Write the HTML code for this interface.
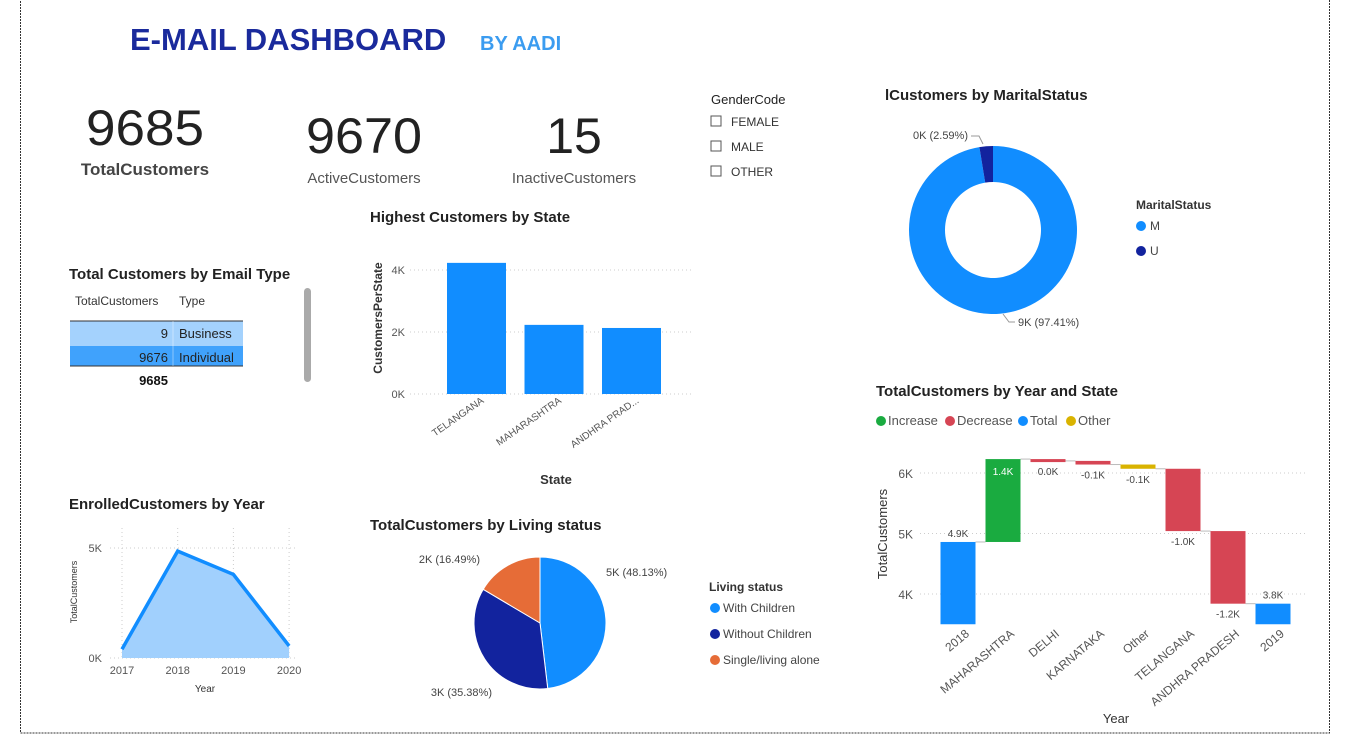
<!DOCTYPE html>
<html><head><meta charset="utf-8"><style>
body{margin:0;width:1348px;height:737px;background:#fff;overflow:hidden;font-family:"Liberation Sans",sans-serif}
svg{position:absolute;left:0;top:0}
</style></head><body>
<svg id="s" width="1348" height="737" xmlns="http://www.w3.org/2000/svg" font-family="Liberation Sans, sans-serif">
<rect x="20.5" y="-2" width="1309" height="735" fill="none" stroke="#333" stroke-dasharray="2,1"/>
<text x="130" y="50" font-size="31" font-weight="bold" fill="#1a2a9c">E-MAIL DASHBOARD</text>
<text x="480" y="50" font-size="20" font-weight="bold" fill="#3b9cf0">BY AADI</text>
<g><text x="145" y="145" font-size="50" text-anchor="middle" fill="#222" textLength="118" lengthAdjust="spacingAndGlyphs">9685</text><text x="145" y="175" font-size="17" font-weight="bold" text-anchor="middle" fill="#444">TotalCustomers</text></g>
<g><text x="364" y="153" font-size="50" text-anchor="middle" fill="#222" textLength="116" lengthAdjust="spacingAndGlyphs">9670</text><text x="364" y="183" font-size="15" text-anchor="middle" fill="#555">ActiveCustomers</text></g>
<g><text x="574" y="153" font-size="50" text-anchor="middle" fill="#222">15</text><text x="574" y="183" font-size="15" text-anchor="middle" fill="#555">InactiveCustomers</text></g>
<g><text x="711" y="104" font-size="13" fill="#222">GenderCode</text>
<g><rect x="711" y="116" width="10" height="10" fill="none" stroke="#555"/><text x="731" y="126" font-size="12" fill="#333">FEMALE</text></g>
<g><rect x="711" y="141" width="10" height="10" fill="none" stroke="#555"/><text x="731" y="151" font-size="12" fill="#333">MALE</text></g>
<g><rect x="711" y="166" width="10" height="10" fill="none" stroke="#555"/><text x="731" y="176" font-size="12" fill="#333">OTHER</text></g></g>
<g><text x="69" y="279" font-size="15" font-weight="bold" fill="#222">Total Customers by Email Type</text>
<text x="75" y="305" font-size="12" fill="#333">TotalCustomers</text><text x="179" y="305" font-size="12" fill="#333">Type</text>
<rect x="70" y="321" width="173" height="25" fill="#a4d2fd"/><rect x="70" y="346" width="173" height="20" fill="#40a2fc"/>
<line x1="70" y1="321" x2="243" y2="321" stroke="#333"/><line x1="70" y1="366" x2="243" y2="366" stroke="#333"/><line x1="173" y1="321" x2="173" y2="366" stroke="#fff" stroke-opacity=".4"/>
<text x="168" y="338" font-size="13" text-anchor="end" fill="#222">9</text><text x="179" y="338" font-size="13" fill="#222">Business</text>
<text x="168" y="362" font-size="13" text-anchor="end" fill="#222">9676</text><text x="179" y="362" font-size="13" fill="#222">Individual</text>
<text x="168" y="385" font-size="13" font-weight="bold" text-anchor="end" fill="#111">9685</text>
<rect x="304" y="288" width="7" height="94" rx="3.5" fill="#aaa"/></g>
<g id="state"><text x="370" y="222" font-size="15" font-weight="bold" fill="#222">Highest Customers by State</text>
<text transform="translate(382,318) rotate(-90)" font-size="12" font-weight="bold" text-anchor="middle" fill="#333">CustomersPerState</text>
<text x="556" y="484" font-size="13" font-weight="bold" text-anchor="middle" fill="#333">State</text></g>
<g id="area"><text x="69" y="509" font-size="15" font-weight="bold" fill="#222">EnrolledCustomers by Year</text>
<text transform="translate(77,592) rotate(-90)" font-size="9" text-anchor="middle" fill="#333">TotalCustomers</text>
<text x="205" y="692" font-size="10" text-anchor="middle" fill="#333">Year</text></g>
<g id="living"><text x="370" y="530" font-size="15" font-weight="bold" fill="#222">TotalCustomers by Living status</text>
<text x="709" y="591" font-size="12" font-weight="bold" fill="#333">Living status</text></g>
<g id="marital"><text x="885" y="100" font-size="15" font-weight="bold" fill="#222">lCustomers by MaritalStatus</text>
<text x="1136" y="209" font-size="12" font-weight="bold" fill="#333">MaritalStatus</text></g>
<g id="wf"><text x="876" y="396" font-size="15" font-weight="bold" fill="#222">TotalCustomers by Year and State</text>
<text transform="translate(887,534) rotate(-90)" font-size="13" text-anchor="middle" fill="#333">TotalCustomers</text>
<text x="1116" y="723" font-size="13" text-anchor="middle" fill="#333">Year</text></g>
</svg>
<script>
const NS="http://www.w3.org/2000/svg";
function mk(p,t,a,txt){const e=document.createElementNS(NS,t);for(const k in a)e.setAttribute(k,a[k]);if(txt!==undefined)e.textContent=txt;p.appendChild(e);return e;}
// state bar chart data
const stateCats=["TELANGANA","MAHARASHTRA","ANDHRA PRAD..."];
const stateVals=[4230,2230,2130];
const stateTicks=[0,2000,4000];const stateTickLabels=["0K","2K","4K"];
// area chart data
const years=["2017","2018","2019","2020"];
const enrolled=[400,4860,3800,550];
const areaTicks=[0,5000];const areaTickLabels=["0K","5K"];
// living status
const livingCats=["With Children","Without Children","Single/living alone"];
const livingVals=[48.13,35.38,16.49];
const livingLabels=["5K (48.13%)","3K (35.38%)","2K (16.49%)"];
// marital
const maritalCats=["M","U"];
const maritalVals=[97.41,2.59];
const maritalLabels=["9K (97.41%)","0K (2.59%)"];
// waterfall
const wfCats=["2018","MAHARASHTRA","DELHI","KARNATAKA","Other","TELANGANA","ANDHRA PRADESH","2019"];
const wfDeltas=[4860,1370,-30,-60,-70,-1030,-1200,0];
const wfTypes=["total","inc","dec","dec","other","dec","dec","total"];
const wfLabels=["4.9K","1.4K","0.0K","-0.1K","-0.1K","-1.0K","-1.2K","3.8K"];
const wfTicks=[4000,5000,6000];const wfTickLabels=["4K","5K","6K"];

// state bars
{const g=document.getElementById("state");const y=v=>394-v*0.031;const x0=447,step=77.5,bw=59;
stateTicks.forEach((t,i)=>{mk(g,"line",{x1:410,x2:692,y1:y(t),y2:y(t),stroke:"#ccc","stroke-dasharray":"1,3"});mk(g,"text",{x:405,y:y(t)+4,"font-size":11,"text-anchor":"end",fill:"#555"},stateTickLabels[i]);});
stateVals.forEach((v,i)=>{const b=mk(g,"rect",{x:x0+i*step,y:y(v),width:bw,height:394-y(v),fill:"#118dff"});


const cx=x0+i*step+bw/2+8;mk(g,"text",{transform:`translate(${cx},402) rotate(-35)`,"font-size":10,"text-anchor":"end",fill:"#555"},stateCats[i]);});}
// area
{const g=document.getElementById("area");const y=v=>658-v*0.022;const x=i=>122+i*55.7;
years.forEach((yr,i)=>{mk(g,"line",{x1:x(i),x2:x(i),y1:528,y2:658,stroke:"#ccc","stroke-dasharray":"1,3"});mk(g,"text",{x:x(i),y:674,"font-size":11,"text-anchor":"middle",fill:"#555"},yr);});
areaTicks.forEach((t,i)=>{mk(g,"line",{x1:110,x2:298,y1:y(t),y2:y(t),stroke:"#ccc","stroke-dasharray":"1,3"});mk(g,"text",{x:102,y:y(t)+4,"font-size":11,"text-anchor":"end",fill:"#555"},areaTickLabels[i]);});
const pts=enrolled.map((v,i)=>x(i)+","+y(v)).join(" ");
const a=mk(g,"polygon",{points:`${x(0)},658 ${pts} ${x(3)},658`,fill:"#a1d0fd"});


const l=mk(g,"polyline",{points:pts,fill:"none",stroke:"#118dff","stroke-width":3.5});

}
// pie helper
function arc(cx,cy,r,ri,a0,a1){const p=(a,rr)=>[cx+rr*Math.sin(a),cy-rr*Math.cos(a)];const lg=(a1-a0)>Math.PI?1:0;const [x0,y0]=p(a0,r),[x1,y1]=p(a1,r);
if(!ri)return `M${cx},${cy}L${x0},${y0}A${r},${r} 0 ${lg} 1 ${x1},${y1}Z`;const [x2,y2]=p(a1,ri),[x3,y3]=p(a0,ri);return `M${x0},${y0}A${r},${r} 0 ${lg} 1 ${x1},${y1}L${x2},${y2}A${ri},${ri} 0 ${lg} 0 ${x3},${y3}Z`;}
// living pie
{const g=document.getElementById("living");const cols=["#118dff","#12239e","#e66c37"];const tot=livingVals.reduce((a,b)=>a+b,0);let a=0;
const lp=[[606,572,"start"],[492,692,"end"],[480,559,"end"]];
livingVals.forEach((v,i)=>{const a1=a+v/tot*2*Math.PI;const s=mk(g,"path",{d:arc(540,623,66,0,a,a1),fill:cols[i],stroke:"#fff","stroke-width":1});


mk(g,"text",{x:lp[i][0],y:lp[i][1]+4,"font-size":11,"text-anchor":lp[i][2],fill:"#444"},livingLabels[i]);a=a1;
mk(g,"circle",{cx:715,cy:608+i*26,r:5,fill:cols[i]});mk(g,"text",{x:723,y:612+i*26,"font-size":12,fill:"#444"},livingCats[i]);});}
// marital donut
{const g=document.getElementById("marital");const cols=["#118dff","#12239e"];const tot=maritalVals.reduce((a,b)=>a+b,0);let a=0;
maritalVals.forEach((v,i)=>{const a1=a+v/tot*2*Math.PI;const s=mk(g,"path",{d:arc(993,230,84,48,a,a1),fill:cols[i]});


a=a1;mk(g,"circle",{cx:1141,cy:226+i*25,r:5,fill:cols[i]});mk(g,"text",{x:1150,y:230+i*25,"font-size":12,fill:"#444"},maritalCats[i]);});
mk(g,"text",{x:1018,y:326,"font-size":11,fill:"#444"},maritalLabels[0]);mk(g,"text",{x:968,y:139,"font-size":11,"text-anchor":"end",fill:"#444"},maritalLabels[1]);
mk(g,"path",{d:"M1015,322 h-6 l-6,-8",fill:"none",stroke:"#999"});mk(g,"path",{d:"M971,136 h8 l4,8",fill:"none",stroke:"#999"});}
// waterfall
{const g=document.getElementById("wf");const y=v=>594-(v-4000)*0.0605;const x=i=>958+i*45;const bw=35;const base=3500;
const cols={total:"#118dff",inc:"#1aab40",dec:"#d64554",other:"#d9b300"};
[["Increase","#1aab40"],["Decrease","#d64554"],["Total","#118dff"],["Other","#d9b300"]].forEach((l,i)=>{const lx=[881,950,1023,1071][i];mk(g,"circle",{cx:lx,cy:421,r:5,fill:l[1]});mk(g,"text",{x:lx+7,y:425,"font-size":13,fill:"#555"},l[0]);});
wfTicks.forEach((t,i)=>{mk(g,"line",{x1:920,x2:1308,y1:y(t),y2:y(t),stroke:"#ccc","stroke-dasharray":"1,3"});mk(g,"text",{x:913,y:y(t)+5,"font-size":12,"text-anchor":"end",fill:"#555"},wfTickLabels[i]);});
let run=0;wfDeltas.forEach((d,i)=>{let lo,hi;if(wfTypes[i]==="total"){if(i>0)d=0;run=run+d;lo=base;hi=run;}else{const p=run;run+=d;lo=Math.min(p,run);hi=Math.max(p,run);}
const r=mk(g,"rect",{x:x(i)-bw/2,y:y(hi),width:bw,height:Math.max(y(lo)-y(hi),3),fill:cols[wfTypes[i]]});


if(i<wfDeltas.length-1)mk(g,"line",{x1:x(i)+bw/2,x2:x(i+1)-bw/2,y1:y(run),y2:y(run),stroke:"#bbb"});
let ly;if(wfTypes[i]==="inc")ly=y(hi)+16;else if(wfTypes[i]==="total")ly=y(hi)-5;else ly=y(lo)+14;
mk(g,"text",{x:x(i),y:ly,"font-size":10,"text-anchor":"middle",fill:wfTypes[i]==="inc"?"#fff":"#444"},wfLabels[i]);
mk(g,"text",{transform:`translate(${x(i)+12},635) rotate(-40)`,"font-size":12,"text-anchor":"end",fill:"#555"},wfCats[i]);});}
</script>
</body></html>
